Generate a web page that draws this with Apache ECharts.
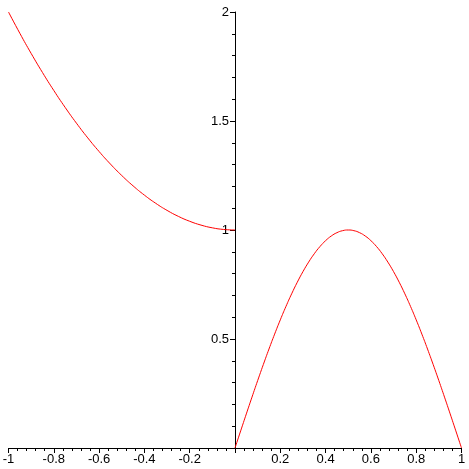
<!DOCTYPE html>
<html>
<head>
<meta charset="utf-8">
<script src="https://cdn.jsdelivr.net/npm/echarts@6/dist/echarts.min.js"></script>
<style>html,body{margin:0;padding:0;background:#fff}#c{width:469px;height:469px}</style>
</head>
<body>
<div id="c"></div>
<script>
// Left branch (x from -1 to 0)
var leftX = [-1,-0.95,-0.9,-0.85,-0.8,-0.75,-0.7,-0.65,-0.6,-0.55,-0.5,-0.45,-0.4,-0.35,-0.3,-0.25,-0.2,-0.15,-0.1,-0.05,0];
var leftY = [2,1.9025,1.81,1.7225,1.64,1.5625,1.49,1.4225,1.36,1.3025,1.25,1.2025,1.16,1.1225,1.09,1.0625,1.04,1.0225,1.01,1.0025,1];
// Right branch (x from 0 to 1)
var rightX = [0,0.025,0.05,0.075,0.1,0.125,0.15,0.175,0.2,0.225,0.25,0.275,0.3,0.325,0.35,0.375,0.4,0.425,0.45,0.475,0.5,
              0.525,0.55,0.575,0.6,0.625,0.65,0.675,0.7,0.725,0.75,0.775,0.8,0.825,0.85,0.875,0.9,0.925,0.95,0.975,1];
var rightY = [0,0.0785,0.1564,0.2334,0.309,0.3827,0.454,0.5225,0.5878,0.6494,0.7071,0.7604,0.809,0.8526,0.891,0.9239,0.9511,0.9724,0.9877,0.9969,1,
              0.9969,0.9877,0.9724,0.9511,0.9239,0.891,0.8526,0.809,0.7604,0.7071,0.6494,0.5878,0.5225,0.454,0.3827,0.309,0.2334,0.1564,0.0785,0];
var xTicks = [-1,-0.8,-0.6,-0.4,-0.2,0.2,0.4,0.6,0.8,1];
var yTicks = [0.5,1,1.5,2];

function pairs(xs, ys){ return xs.map(function(x,i){ return [x, ys[i]]; }); }

var W = 469, gl = 8.5, gr = 7.5;
var plotW = W - gl - gr;
var chart = echarts.init(document.getElementById('c'), null, {renderer:'canvas'});
var font = 'Liberation Sans, Arial, sans-serif';
chart.setOption({
  animation: false,
  backgroundColor: '#ffffff',
  grid: {left: gl, right: gr, top: 12, bottom: 21, containLabel: false, outerBoundsMode: 'none'},
  xAxis: {
    type: 'value', min: -1, max: 1, interval: 0.2,
    axisLine: {show: true, onZero: false, lineStyle: {color: '#000', width: 1}},
    axisTick: {show: true, inside: false, length: 5, lineStyle: {color: '#000'}},
    minorTick: {show: true, splitNumber: 5, length: 3, lineStyle: {color: '#000'}},
    splitLine: {show: false},
    axisLabel: {
      color: '#000', fontSize: 13, fontFamily: font, margin: 5,
      showMinLabel: true, showMaxLabel: true, hideOverlap: false,
      formatter: function(v){ v = Math.round(v*10)/10; return xTicks.indexOf(v) >= 0 ? String(v) : ''; }
    }
  },
  yAxis: {
    type: 'value', min: 0, max: 2, interval: 0.5, position: 'left',
    offset: -plotW / 2,
    axisLine: {show: true, onZero: false, lineStyle: {color: '#000', width: 1}},
    axisTick: {show: true, inside: false, length: 5, lineStyle: {color: '#000'}},
    minorTick: {show: true, splitNumber: 5, length: 3, lineStyle: {color: '#000'}},
    splitLine: {show: false},
    axisLabel: {
      color: '#000', fontSize: 13, fontFamily: font, margin: 6,
      showMinLabel: true, showMaxLabel: true, hideOverlap: false,
      formatter: function(v){ return yTicks.indexOf(v) >= 0 ? String(v) : ''; }
    }
  },
  series: [
    {type: 'line', data: pairs(leftX, leftY), smooth: true, showSymbol: false, lineStyle: {color: '#ff0000', width: 1}, z: 1},
    {type: 'line', data: pairs(rightX, rightY), smooth: true, showSymbol: false, lineStyle: {color: '#ff0000', width: 1}, z: 1}
  ]
});
</script>
</body>
</html>
